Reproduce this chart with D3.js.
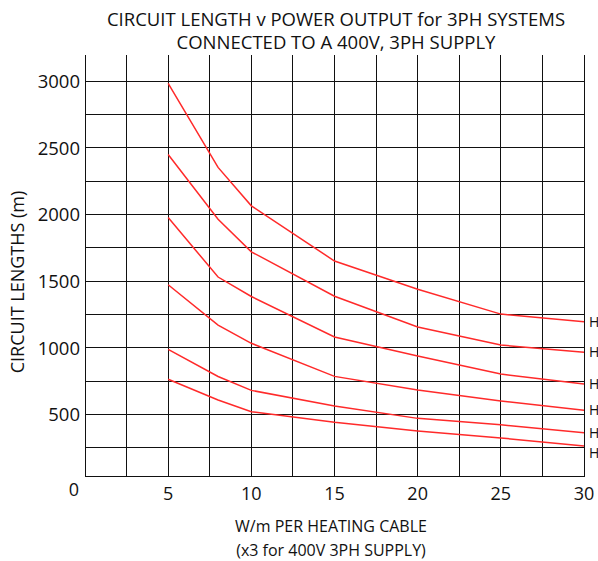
<!DOCTYPE html>
<html>
<head>
<meta charset="utf-8">
<script src="https://cdn.jsdelivr.net/npm/d3@7"></script>
<style>
  html, body { margin: 0; padding: 0; background: #fff; }
  svg { display: block; }
  text { font-family: "Open Sans", sans-serif; fill: #111; }
</style>
</head>
<body>
<svg id="chart" width="598" height="561"></svg>
<script>
// ---- data ----
const xValues = [5, 8, 10, 15, 20, 25, 30];
const series1 = [2985, 2354, 2066, 1652, 1440, 1254, 1196];
const series2 = [2451, 1966, 1721, 1388, 1157, 1022, 967];
const series3 = [1979, 1532, 1386, 1082, 939, 804, 729];
const series4 = [1474, 1172, 1035, 787, 684, 602, 532];
const series5 = [990, 786, 682, 564, 472, 424, 364];
const series6 = [765, 610, 522, 442, 377, 325, 265];
const seriesList = [series1, series2, series3, series4, series5, series6];
const seriesLabels = ["H", "H", "H", "H", "H", "H"];
const xTicks = [5, 10, 15, 20, 25, 30];
const yTicks = [500, 1000, 1500, 2000, 2500, 3000];
const xGrid = d3.range(0, 30.01, 2.5);
const yGrid = d3.range(250, 3000.01, 250);
const titleLines = ["CIRCUIT LENGTH v POWER OUTPUT for 3PH SYSTEMS", "CONNECTED TO A 400V, 3PH SUPPLY"];
const xLabelLines = ["W/m PER HEATING CABLE", "(x3 for 400V 3PH SUPPLY)"];
const yLabel = "CIRCUIT LENGTHS (m)";
const yMin = 35, yMax = 3200;

// ---- layout ----
const svg = d3.select("#chart");
const x = d3.scaleLinear().domain([0, 30]).range([85, 584]);
const y = d3.scaleLinear().domain([0, 3000]).range([481.3, 81.3]);

const grid = svg.append("g").attr("stroke", "#111").attr("stroke-width", 1).attr("shape-rendering", "crispEdges");
grid.selectAll("line.v").data(xGrid).join("line")
  .attr("x1", d => x(d)).attr("x2", d => x(d))
  .attr("y1", y(yMin)).attr("y2", y(yMax));
grid.selectAll("line.h").data(yGrid.concat([yMin])).join("line")
  .attr("x1", x(0)).attr("x2", x(30))
  .attr("y1", d => y(d)).attr("y2", d => y(d));

const line = d3.line().x((d, i) => x(xValues[i])).y(d => y(d));
svg.append("g").selectAll("path").data(seriesList).join("path")
  .attr("d", d => line(d))
  .attr("fill", "none").attr("stroke", "#ff2a2a").attr("stroke-width", 1.5);

// end labels, pushed apart so they do not collide
const labelY = seriesList.map(s => y(s[s.length - 1]));
for (let i = 1; i < labelY.length; i++) {
  if (labelY[i] - labelY[i - 1] < 20) labelY[i] = labelY[i - 1] + 20;
}
svg.append("g").selectAll("text").data(seriesList).join("text")
  .attr("x", x(30) + 5).attr("y", (d, i) => labelY[i])
  .attr("dy", "0.36em").attr("font-size", 14)
  .text((d, i) => seriesLabels[i]);

// axes tick labels
svg.append("g").selectAll("text").data(yTicks).join("text")
  .attr("x", x(0) - 5).attr("y", d => y(d)).attr("dy", "0.36em")
  .attr("text-anchor", "end").attr("font-size", 18.5).text(d => d);
svg.append("g").selectAll("text").data(xTicks).join("text")
  .attr("x", d => x(d)).attr("y", 500)
  .attr("text-anchor", "middle").attr("font-size", 18).text(d => d);
svg.append("text").attr("x", x(0) - 11).attr("y", 496)
  .attr("text-anchor", "middle").attr("font-size", 18).text("0");

// titles
svg.append("g").selectAll("text").data(titleLines).join("text")
  .attr("x", 336).attr("y", (d, i) => 26 + i * 23)
  .attr("text-anchor", "middle").attr("font-size", 18.5).text(d => d);
svg.append("g").selectAll("text").data(xLabelLines).join("text")
  .attr("x", 331).attr("y", (d, i) => 532 + i * 24)
  .attr("text-anchor", "middle").attr("font-size", 16).text(d => d);
svg.append("text").attr("transform", "translate(24,282) rotate(-90)")
  .attr("text-anchor", "middle").attr("font-size", 18).text(yLabel);
</script>
</body>
</html>
